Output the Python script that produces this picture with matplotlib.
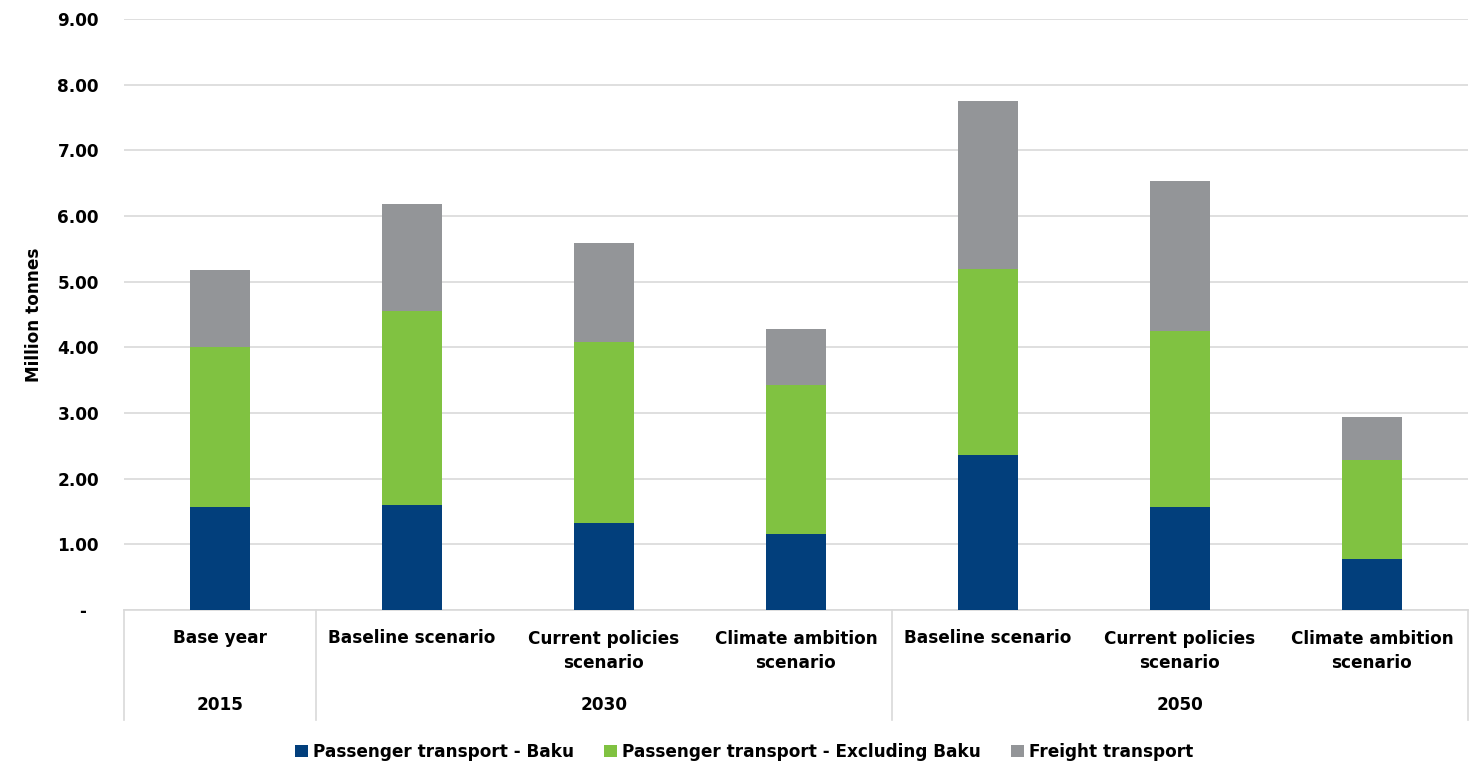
import matplotlib
matplotlib.use("Agg")
import matplotlib.pyplot as plt
from matplotlib.patches import Patch
import numpy as np

# Emissions by scenario (million tonnes)
scenarios = ["Base year", "Baseline scenario", "Current policies\nscenario",
             "Climate ambition\nscenario", "Baseline scenario",
             "Current policies\nscenario", "Climate ambition\nscenario"]
years = ["2015", "2030", "2050"]
year_spans = [(0, 1), (1, 4), (4, 7)]

passenger_baku = [1.57, 1.60, 1.32, 1.16, 2.36, 1.57, 0.78]
passenger_excl_baku = [2.43, 2.95, 2.76, 2.26, 2.83, 2.68, 1.50]
freight = [1.18, 1.64, 1.51, 0.86, 2.56, 2.29, 0.66]

series_names = ["Passenger transport - Baku",
                "Passenger transport - Excluding Baku",
                "Freight transport"]
colors = ["#023f7c", "#80c241", "#939598"]

fs = 12.2
font = dict(family="DejaVu Sans", weight="bold")

fig = plt.figure(figsize=(14.7, 7.66), dpi=100)
ax = fig.add_axes([124 / 1470, 1 - 610 / 766, 1344 / 1470, 591 / 766])

x = np.arange(len(scenarios))
width = 0.3125
bottom = np.zeros(len(scenarios))
for vals, col in zip([passenger_baku, passenger_excl_baku, freight], colors):
    ax.bar(x, vals, width, bottom=bottom, color=col, zorder=3)
    bottom += np.array(vals)

ax.set_xlim(-0.5, len(scenarios) - 0.5)
ax.set_ylim(0, 9)
yt = np.arange(0, 10)
ax.set_yticks(yt)
ax.set_yticklabels(["-  "] + [f"{v:.2f}" for v in yt[1:]], fontsize=fs, **font)
ax.tick_params(axis="y", length=0, pad=18)
ax.set_xticks([])
ax.grid(axis="y", color="#d9d9d9", linewidth=1.2, zorder=0)
for s in ["top", "right", "left"]:
    ax.spines[s].set_visible(False)
ax.spines["bottom"].set_color("#d9d9d9")
ax.spines["bottom"].set_linewidth(1.2)

ax.set_ylabel("Million tonnes", fontsize=fs, labelpad=10, **font)

# Two-level category axis
trans = ax.get_xaxis_transform()
ax_h = 591.0
for i, lab in enumerate(scenarios):
    ypix = 651 if "\n" in lab else 638
    ax.text(i, -(ypix - 610) / ax_h, lab, transform=trans, ha="center", va="center",
            fontsize=fs, linespacing=1.5, clip_on=False, **font)

sep_bottom = -(720 - 610) / ax_h
for (a, b), yr in zip(year_spans, years):
    ax.text((a + b - 1) / 2, -(705 - 610) / ax_h, yr, transform=trans,
            ha="center", va="center", fontsize=fs, clip_on=False, **font)
for edge in [-0.5, 0.5, 3.5, 6.5]:
    ax.plot([edge, edge], [0, sep_bottom], transform=trans, color="#d9d9d9",
            linewidth=1.2, clip_on=False)

handles = [Patch(facecolor=c, edgecolor="none") for c in colors]
fig.legend(handles, series_names, loc="center", bbox_to_anchor=(744 / 1470, 1 - 752 / 766),
           ncol=3, frameon=False, handlelength=0.75, handleheight=0.75, handletextpad=0.3,
           columnspacing=1.8, prop=dict(size=fs, **font))

fig.savefig("out.png", dpi=100)
